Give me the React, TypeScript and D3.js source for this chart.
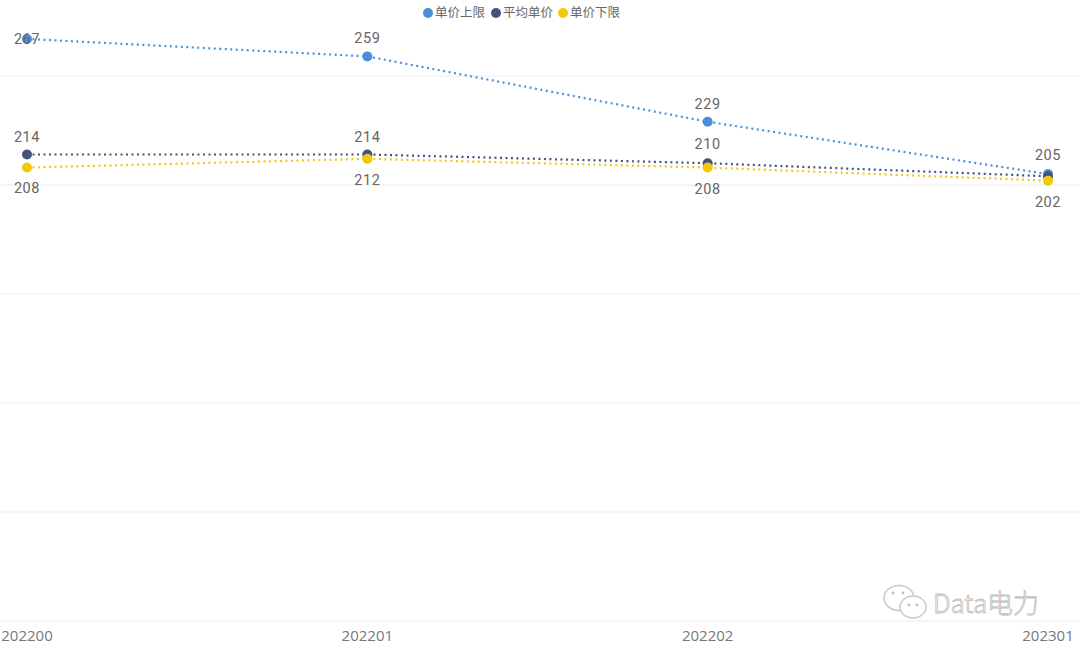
import React, { useEffect, useRef } from 'react';
import * as d3 from 'd3';

const categories = ['202200', '202201', '202202', '202301'];
const upperPrice = [267, 259, 229, 205];
const avgPrice = [214, 214, 210, 204];
const lowerPrice = [208, 212, 208, 202];
const gridTicks = [0, 50, 100, 150, 200, 250];

const seriesNames = ['单价上限', '平均单价', '单价下限'];
const seriesColors = ['#4A8FDD', '#44527E', '#F2C80F'];

const App: React.FC = () => {
  const ref = useRef<SVGSVGElement>(null);

  useEffect(() => {
    const svg = d3.select(ref.current);
    svg.selectAll('*').remove();
    const width = 1080;

    const x = d3.scalePoint<string>().domain(categories).range([27, 1048]);
    const y = d3.scaleLinear().domain([0, 250]).range([621, 76]);

    // gridlines
    svg
      .append('g')
      .selectAll('line')
      .data(gridTicks)
      .enter()
      .append('line')
      .attr('x1', 0)
      .attr('x2', width)
      .attr('y1', (d) => y(d))
      .attr('y2', (d) => y(d))
      .attr('stroke', '#ececec')
      .attr('stroke-width', 1);

    // x axis labels
    svg
      .append('g')
      .selectAll('text')
      .data(categories)
      .enter()
      .append('text')
      .attr('x', (d) => x(d)!)
      .attr('y', 641)
      .attr('text-anchor', 'middle')
      .attr('font-family', 'Open Sans, sans-serif')
      .attr('font-size', 15)
      .attr('fill', '#777')
      .text((d) => d);

    const series = [
      { values: upperPrice, color: seriesColors[0] },
      { values: avgPrice, color: seriesColors[1] },
      { values: lowerPrice, color: seriesColors[2] },
    ];

    const line = d3
      .line<number>()
      .x((_, i) => x(categories[i])!)
      .y((d) => y(d));

    // lines, bottom series first
    [...series].reverse().forEach((s) => {
      svg
        .append('path')
        .datum(s.values)
        .attr('d', line)
        .attr('fill', 'none')
        .attr('stroke', s.color)
        .attr('stroke-width', 2.2)
        .attr('stroke-dasharray', '2 3.5');
    });

    // points
    series.forEach((s) => {
      svg
        .append('g')
        .selectAll('circle')
        .data(s.values)
        .enter()
        .append('circle')
        .attr('cx', (_, i) => x(categories[i])!)
        .attr('cy', (d) => y(d))
        .attr('r', 5)
        .attr('fill', s.color);
    });

    // data labels
    const labelSpecs = [
      { values: upperPrice, dy: [0, -18, -18, -19], hide: [] as number[] },
      { values: avgPrice, dy: [-18, -18, -19, 0], hide: [3] },
      { values: lowerPrice, dy: [20, 21, 21, 21], hide: [] as number[] },
    ];
    labelSpecs.forEach((spec) => {
      const items = spec.values
        .map((v, i) => ({ v, i }))
        .filter((d) => !spec.hide.includes(d.i));
      svg
        .append('g')
        .selectAll('text')
        .data(items)
        .enter()
        .append('text')
        .attr('x', (d) => x(categories[d.i])!)
        .attr('y', (d) => y(d.v) + spec.dy[d.i])
        .attr('dy', '0.35em')
        .attr('text-anchor', 'middle')
        .attr('font-family', 'Roboto, sans-serif')
        .attr('font-size', 14.5)
        .attr('letter-spacing', 0.6)
        .attr('fill', '#6b6460')
        .text((d) => d.v);
    });

    // legend
    const legend = svg.append('g').attr('transform', 'translate(428,13)');
    const legendX = [0, 68, 135];
    seriesNames.forEach((name, i) => {
      const g = legend.append('g').attr('transform', `translate(${legendX[i]},0)`);
      g.append('circle').attr('r', 5).attr('fill', seriesColors[i]);
      g.append('text')
        .attr('x', 7)
        .attr('dy', '0.35em')
        .attr('font-family', 'Noto Sans CJK SC, sans-serif')
        .attr('font-size', 12.5)
        .attr('fill', '#666')
        .text(name);
    });

    // watermark
    const wm = svg.append('g');
    wm.append('ellipse')
      .attr('cx', 899)
      .attr('cy', 598)
      .attr('rx', 15)
      .attr('ry', 12.5)
      .attr('fill', '#fff')
      .attr('stroke', '#c8c8c8')
      .attr('stroke-width', 1.4);
    wm.append('ellipse')
      .attr('cx', 913)
      .attr('cy', 607)
      .attr('rx', 13)
      .attr('ry', 11)
      .attr('fill', '#fff')
      .attr('stroke', '#c8c8c8')
      .attr('stroke-width', 1.4);
    [
      [893, 593],
      [903, 593],
      [909, 605],
      [917, 605],
    ].forEach(([cx, cy]) => {
      wm.append('circle').attr('cx', cx).attr('cy', cy).attr('r', 1.4).attr('fill', '#c0c0c0');
    });
    wm.append('text')
      .attr('x', 933)
      .attr('y', 613)
      .attr('font-family', 'Noto Sans CJK SC, sans-serif')
      .attr('font-size', 26)
      .attr('font-weight', 300)
      .attr('fill', '#fff')
      .attr('stroke', '#bdbdbd')
      .attr('stroke-width', 0.8)
      .text('Data电力');
  }, []);

  return (
    <svg
      ref={ref}
      width={1080}
      height={651}
      style={{ position: 'absolute', left: 0, top: 0, background: '#fff' }}
    />
  );
};

export default App;
